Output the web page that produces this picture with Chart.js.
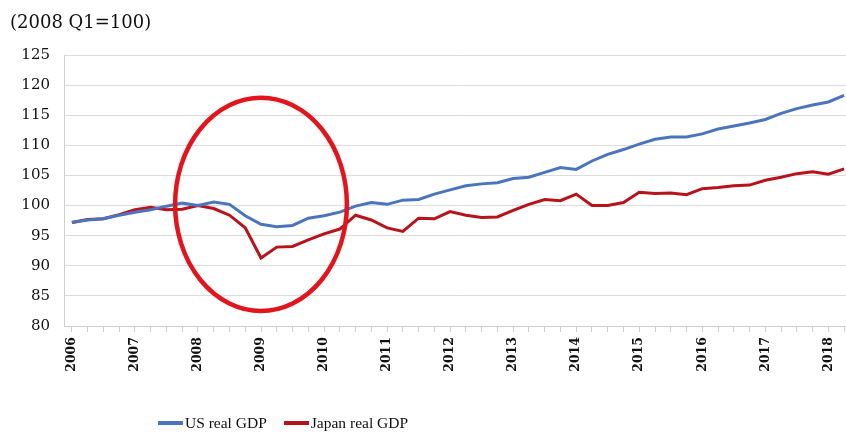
<!DOCTYPE html>
<html>
<head>
<meta charset="utf-8">
<title>US and Japan real GDP</title>
<script src="https://cdn.jsdelivr.net/npm/chart.js@4/dist/chart.umd.min.js"></script>
<style>
  html, body { margin: 0; padding: 0; background: #fff; overflow: hidden; }
  .wrap { position: relative; width: 846px; height: 434px; overflow: hidden; }
  .legend { position: absolute; left: 158px; top: 414px; display: flex; align-items: center;
            font-family: "Liberation Serif", serif; font-size: 15.5px; color: #111; line-height: 18px; }
  .legend-item { display: flex; align-items: center; margin-right: 17px; }
  .legend-swatch { width: 25px; height: 3.5px; margin-right: 2px; }
</style>
</head>
<body>
<div class="wrap">
  <!-- canvas a little wider than the frame: the plot runs off the right edge like the original -->
  <canvas id="gdp-chart" width="852" height="434"></canvas>
  <div class="legend" id="legend"></div>
</div>
<script>
// quarterly index, 2008 Q1 = 100, from 2006 Q1 to 2018 Q2
const years = ['2006', '2007', '2008', '2009', '2010', '2011', '2012', '2013', '2014', '2015', '2016', '2017', '2018'];
const quarterNames = ['Q1', 'Q2', 'Q3', 'Q4'];

const usGdp = [
  97.2, 97.6, 97.8, 98.4, 98.9, 99.3, 99.9, 100.4,
  100.0, 100.6, 100.2, 98.3, 96.9, 96.5, 96.7, 97.9,
  98.3, 98.9, 99.9, 100.5, 100.2, 100.9, 101.0, 101.9,
  102.6, 103.3, 103.6, 103.8, 104.5, 104.7, 105.5, 106.3,
  106.0, 107.4, 108.5, 109.3, 110.2, 111.0, 111.4, 111.4,
  111.9, 112.7, 113.2, 113.7, 114.3, 115.3, 116.1, 116.7,
  117.2, 118.3,
];
const japanGdp = [
  97.2, 97.7, 97.8, 98.5, 99.3, 99.7, 99.3, 99.4,
  100.0, 99.5, 98.4, 96.3, 91.3, 93.1, 93.2, 94.3,
  95.3, 96.1, 98.4, 97.6, 96.3, 95.7, 97.9, 97.8,
  99.0, 98.4, 98.0, 98.1, 99.2, 100.2, 101.0, 100.8,
  101.9, 100.0, 100.0, 100.5, 102.2, 102.0, 102.1, 101.8,
  102.8, 103.0, 103.3, 103.4, 104.2, 104.7, 105.3, 105.6,
  105.2, 106.1,
];

const quarterLabels = years
  .flatMap(y => quarterNames.map(q => `${y} ${q}`))
  .slice(0, usGdp.length);

// red ring drawn round the 2008-09 crisis (centre quarter index, value, radii)
const crisisRing = { quarter: 12, value: 100.2, rQuarters: 5.45, rValue: 17.7 };

const ringPlugin = {
  id: 'crisisRing',
  afterDatasetsDraw(chart) {
    const { ctx, scales: { x, y } } = chart;
    const cx = x.getPixelForValue(crisisRing.quarter);
    const cy = y.getPixelForValue(crisisRing.value);
    const rx = Math.abs(x.getPixelForValue(crisisRing.quarter + crisisRing.rQuarters) - cx);
    const ry = Math.abs(y.getPixelForValue(crisisRing.value + crisisRing.rValue) - cy);
    ctx.save();
    ctx.beginPath();
    ctx.ellipse(cx, cy, rx, ry, 0, 0, Math.PI * 2);
    ctx.strokeStyle = '#e2141c';
    ctx.lineWidth = 4.5;
    ctx.stroke();
    ctx.restore();
  },
};

const chart = new Chart(document.getElementById('gdp-chart'), {
  type: 'line',
  data: {
    labels: quarterLabels,
    datasets: [
      { label: 'US real GDP', data: usGdp, borderColor: '#4a74bd', borderWidth: 3, pointRadius: 0, tension: 0 },
      { label: 'Japan real GDP', data: japanGdp, borderColor: '#b8121b', borderWidth: 3, pointRadius: 0, tension: 0 },
    ],
  },
  options: {
    responsive: false,
    animation: false,
    devicePixelRatio: 1,
    layout: { padding: { left: 10, top: 0, right: 0, bottom: 0 } },
    plugins: {
      legend: { display: false },
      tooltip: { enabled: false },
      title: {
        display: true,
        text: '(2008 Q1=100)',
        align: 'start',
        color: '#111',
        font: { family: 'DejaVu Serif', size: 18, weight: 'normal' },
        padding: { top: 13, bottom: 20.4 },
      },
    },
    scales: {
      x: {
        type: 'category',
        offset: true,
        grid: { display: true, offset: false, drawOnChartArea: false, tickLength: 6, color: '#cfcfcf' },
        border: { color: '#cfcfcf' },
        ticks: {
          autoSkip: false,
          minRotation: 90,
          maxRotation: 90,
          padding: 5,
          color: '#111',
          font: { family: 'DejaVu Serif', size: 12.5, weight: 'bold' },
          callback: (v, i) => (i % 4 === 0 ? years[i / 4] : ''),
        },
        afterFit: (s) => { s.height = 108; s.paddingLeft = 0; s.paddingRight = 0; },
      },
      y: {
        min: 80,
        max: 125,
        grid: { color: '#dcdcdc', drawTicks: false },
        border: { color: '#cfcfcf' },
        ticks: {
          stepSize: 5,
          padding: 14,
          color: '#111',
          font: { family: 'DejaVu Serif', size: 15 },
        },
        afterFit: (s) => { s.width = 54; },
      },
    },
  },
  plugins: [ringPlugin],
});

document.getElementById('legend').innerHTML = chart.data.datasets.map(ds => `
  <div class="legend-item">
    <span class="legend-swatch" style="background:${ds.borderColor}"></span>${ds.label}
  </div>`).join('');
</script>
</body>
</html>
